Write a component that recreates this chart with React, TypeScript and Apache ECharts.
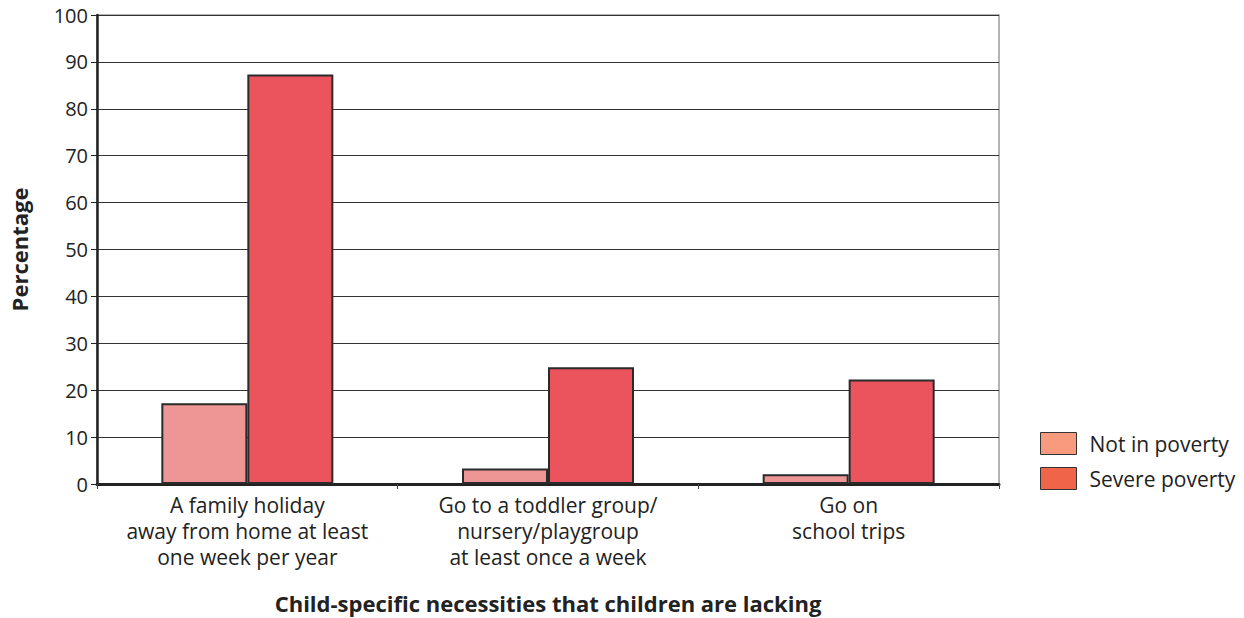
import React, { useEffect, useRef } from "react";
import * as echarts from "echarts";

const categories = [
  "A family holiday\naway from home at least\none week per year",
  "Go to a toddler group/\nnursery/playgroup\nat least once a week",
  "Go on\nschool trips",
];
const notInPoverty = [17.2, 3.3, 2.1];
const severePoverty = [87.3, 24.9, 22.3];
const seriesNames = ["Not in poverty", "Severe poverty"];
const yTicks = { min: 0, max: 100, interval: 10 };

const FONT = "'Open Sans', sans-serif";

export default function App() {
  const ref = useRef<HTMLDivElement>(null);
  useEffect(() => {
    if (!ref.current) return;
    const chart = echarts.init(ref.current, undefined, { renderer: "svg" });
    chart.setOption({
      animation: false,
      textStyle: { fontFamily: FONT },
      grid: {
        left: 97,
        right: 245,
        top: 15,
        bottom: 134,
        containLabel: false,
        outerBoundsMode: "none",
        show: true,
        borderColor: "#999",
        borderWidth: 1.5,
      },
      legend: {
        orient: "vertical",
        left: 1040,
        top: 432,
        padding: 0,
        icon: "rect",
        itemWidth: 36,
        itemHeight: 22,
        itemGap: 12,
        textStyle: { fontSize: 21, color: "#222", fontFamily: FONT, padding: [0, 0, 0, 8] },
        data: [
          { name: seriesNames[0], itemStyle: { color: "#f79a7e", borderColor: "#333", borderWidth: 1 } },
          { name: seriesNames[1], itemStyle: { color: "#f0654a", borderColor: "#333", borderWidth: 1 } },
        ],
      },
      xAxis: {
        type: "category",
        data: categories,
        name: "Child-specific necessities that children are lacking",
        nameLocation: "middle",
        nameGap: 108,
        nameTextStyle: { fontSize: 22, fontWeight: "bold", color: "#222", fontFamily: FONT },
        axisLine: { show: true, lineStyle: { color: "#222", width: 3 } },
        axisTick: { show: true, length: 5, lineStyle: { color: "#444", width: 1 } },
        axisLabel: { interval: 0, hideOverlap: false, fontSize: 21, color: "#222", lineHeight: 26, margin: 8, fontFamily: FONT },
      },
      yAxis: {
        type: "value",
        min: yTicks.min,
        max: yTicks.max,
        interval: yTicks.interval,
        name: "Percentage",
        nameLocation: "middle",
        nameGap: 67,
        nameRotate: 90,
        nameTextStyle: { fontSize: 22, fontWeight: "bold", color: "#222", fontFamily: FONT },
        axisLine: { show: true, lineStyle: { color: "#222", width: 2.5 } },
        axisTick: { show: true, length: 6, lineStyle: { color: "#222", width: 1 } },
        axisLabel: { fontSize: 20, color: "#222", margin: 9, fontFamily: FONT },
        splitLine: { show: true, lineStyle: { color: "#333", width: 1 } },
      },
      series: [
        {
          name: seriesNames[0],
          type: "bar",
          data: notInPoverty,
          barWidth: 86,
          barGap: "0%",
          itemStyle: { color: "#ee9696", borderColor: "#2a2a2a", borderWidth: 2 },
        },
        {
          name: seriesNames[1],
          type: "bar",
          data: severePoverty,
          barWidth: 86,
          barGap: "0%",
          itemStyle: { color: "#eb545c", borderColor: "#2a2a2a", borderWidth: 2 },
        },
      ],
    });
    return () => chart.dispose();
  }, []);
  return <div ref={ref} style={{ width: 1244, height: 618, position: "absolute", left: 0, top: 0 }} />;
}
